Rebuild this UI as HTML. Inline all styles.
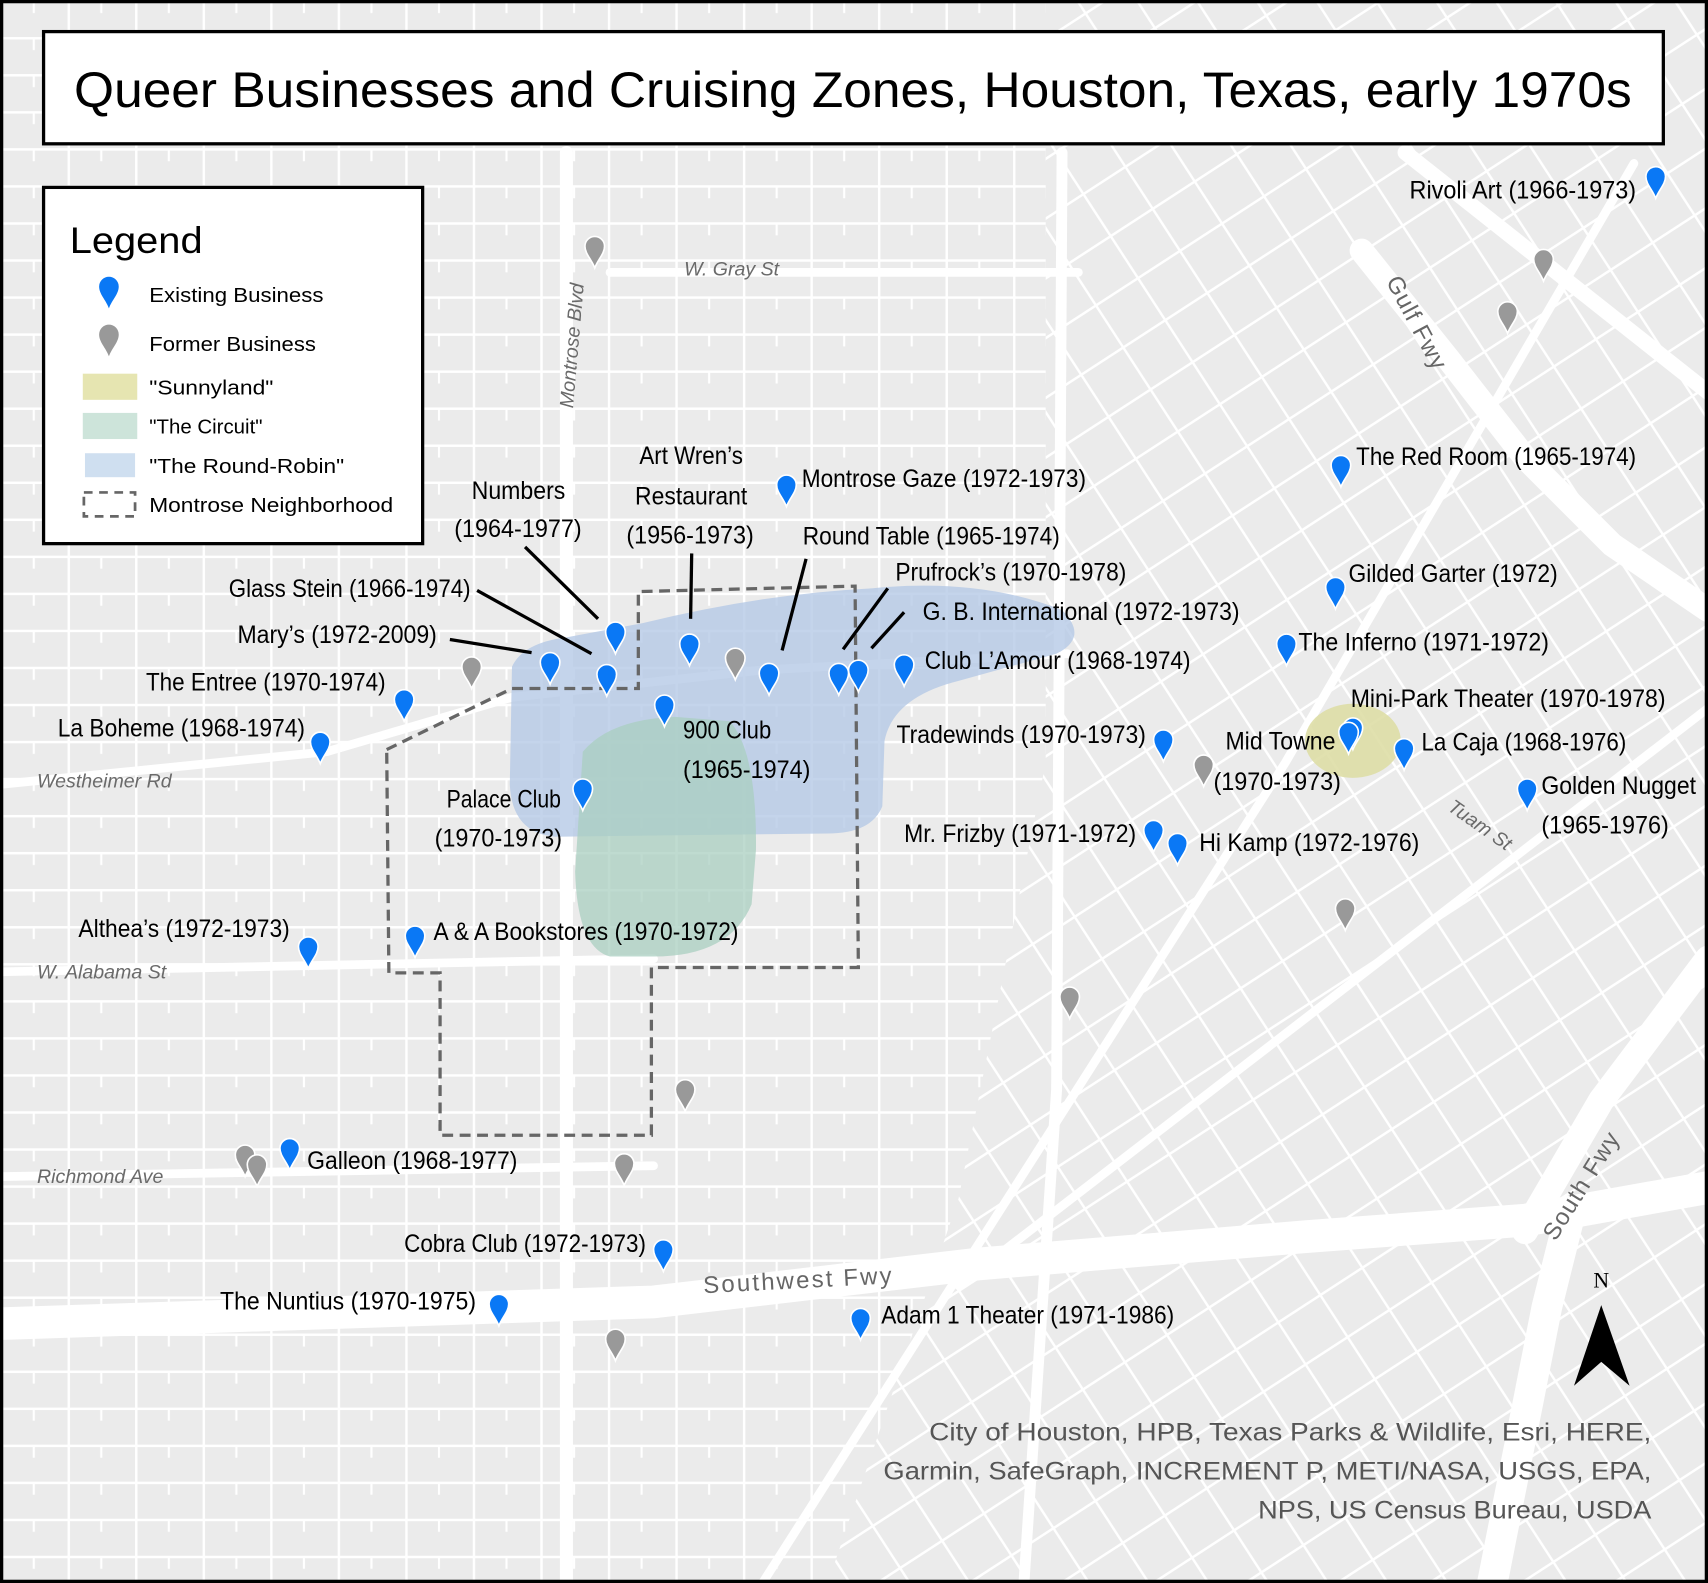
<!DOCTYPE html>
<html><head><meta charset="utf-8"><style>
html,body{margin:0;padding:0;background:#ebebeb}
svg{display:block}
.l{font-family:"Liberation Sans Narrow","Liberation Sans",sans-serif;font-size:23px;fill:#000}
.s{font-family:"Liberation Sans",sans-serif;font-size:19px;fill:#000}
.st{font-family:"Liberation Sans",sans-serif;font-style:italic;font-size:18px;fill:#6a6a6a}
</style></head><body>
<svg width="1708" height="1583" viewBox="0 0 1568 1453" preserveAspectRatio="none" xmlns="http://www.w3.org/2000/svg">
<defs>
<pattern id="gw" width="62" height="34" patternUnits="userSpaceOnUse">
<rect width="62" height="34" fill="#ebebeb"/>
<path d="M0 1H62M1 0V34" stroke="#fff" stroke-width="2.5"/>
<path d="M31 1V12" stroke="#fff" stroke-width="2"/>
</pattern>
<pattern id="ge" width="46" height="46" patternUnits="userSpaceOnUse" patternTransform="rotate(-33)">
<rect width="46" height="46" fill="#ebebeb"/>
<path d="M0 1H46M1 0V46" stroke="#fff" stroke-width="2.5"/>
</pattern>
<path id="pin" d="M0,0 C-3,-8 -9,-13 -9,-20 A9,9 0 1 1 9,-20 C9,-13 3,-8 0,0Z"/>
</defs>
<rect width="1568" height="1453" fill="url(#gw)"/>
<path d="M960 0 L1568 0 L1568 1453 L760 1453 L880 1100 L960 700Z" fill="url(#ge)"/>
<g stroke="#fff" fill="none" stroke-linecap="round">
<path d="M0 1215 L600 1195 L900 1160 L1200 1135 L1400 1120 L1568 1090" stroke-width="30"/>
<path d="M1400 1130 L1470 1010 L1568 880" stroke-width="24"/>
<path d="M1370 1453 L1420 1200 L1440 1120" stroke-width="28"/>
<path d="M1250 230 L1330 330 L1400 420 L1480 500 L1568 560" stroke-width="22"/>
<path d="M1290 140 L1568 360" stroke-width="14"/>
<path d="M520 140 L520 1453" stroke-width="12"/>
<path d="M0 720 L300 690 L470 640 L700 615 L980 600" stroke-width="8"/>
<path d="M0 892 L600 880" stroke-width="8"/>
<path d="M0 1080 L600 1070" stroke-width="8"/>
<path d="M560 250 L990 250" stroke-width="8"/>
<path d="M975 140 L970 1000 L940 1453" stroke-width="10"/>
<path d="M880 1180 L1568 650" stroke-width="8"/>
<path d="M700 1453 L1180 700 L1500 150" stroke-width="8"/>
</g>
<path d="M470 612 Q480 590 520 585 L590 572 Q700 545 800 540 Q900 530 975 560 Q1000 585 970 600 L880 625 Q820 640 812 680 L810 740 Q800 765 760 765 L510 768 Q470 765 468 720 Z" fill="#b5c9e6" opacity="0.8"/>
<path d="M535 690 Q560 660 620 658 L670 662 Q695 690 694 780 L690 830 Q670 878 600 878 L560 878 Q530 870 528 800 Z" fill="#a9cfc0" opacity="0.75"/>
<ellipse cx="1242" cy="680" rx="44" ry="34" fill="#dedea6" opacity="0.9"/>
<path d="M355 688 L470 632 L586 632 L586 543 L785 538 L788 888 L598 888 L598 1042 L404 1042 L404 893 L357 893 Z" fill="none" stroke="#666" stroke-width="3" stroke-dasharray="10 6"/>
<text class="st" x="628" y="253">W. Gray St</text>
<text class="st" transform="translate(526,375) rotate(-85)">Montrose Blvd</text>
<text class="st" x="34" y="723">Westheimer Rd</text>
<text class="st" x="34" y="898">W. Alabama St</text>
<text class="st" x="34" y="1086">Richmond Ave</text>
<text class="st" transform="translate(1328,743) rotate(35)">Tuam St</text>
<text x="646" y="1187" font-family="Liberation Sans,sans-serif" font-size="22" fill="#666" letter-spacing="2" transform="rotate(-3 646 1187)">Southwest Fwy</text>
<text transform="translate(1428,1140) rotate(-58)" font-family="Liberation Sans,sans-serif" font-size="22" fill="#666" letter-spacing="1">South Fwy</text>
<text transform="translate(1272,258) rotate(62)" font-family="Liberation Sans,sans-serif" font-size="22" fill="#666" letter-spacing="1">Gulf Fwy</text>
<g stroke="#000" stroke-width="3">
<line x1="482" y1="502" x2="549" y2="568"/>
<line x1="438" y1="542" x2="543" y2="600"/>
<line x1="413" y1="587" x2="488" y2="599"/>
<line x1="635" y1="508" x2="634" y2="568"/>
<line x1="740" y1="513" x2="718" y2="597"/>
<line x1="815" y1="540" x2="774" y2="596"/>
<line x1="830" y1="562" x2="800" y2="595"/>
</g>
<g fill="#0a78f5" stroke="#fff" stroke-width="1.5">
<use href="#pin" x="1520" y="182"/><use href="#pin" x="722" y="465"/><use href="#pin" x="1231" y="447"/>
<use href="#pin" x="1226" y="559"/><use href="#pin" x="1181" y="611"/><use href="#pin" x="1242" y="688"/><use href="#pin" x="1238" y="692"/>
<use href="#pin" x="1289" y="707"/><use href="#pin" x="1402" y="744"/><use href="#pin" x="1068" y="699"/>
<use href="#pin" x="1059" y="782"/><use href="#pin" x="1081" y="794"/><use href="#pin" x="565" y="600"/>
<use href="#pin" x="557" y="639"/><use href="#pin" x="505" y="628"/><use href="#pin" x="633" y="611"/>
<use href="#pin" x="706" y="638"/><use href="#pin" x="770" y="638"/><use href="#pin" x="788" y="635"/>
<use href="#pin" x="830" y="630"/><use href="#pin" x="610" y="667"/><use href="#pin" x="535" y="744"/>
<use href="#pin" x="371" y="662"/><use href="#pin" x="294" y="701"/><use href="#pin" x="283" y="889"/>
<use href="#pin" x="381" y="879"/><use href="#pin" x="266" y="1074"/><use href="#pin" x="609" y="1167"/>
<use href="#pin" x="458" y="1217"/><use href="#pin" x="790" y="1230"/>
</g>
<g fill="#999" stroke="#fff" stroke-width="1.5">
<use href="#pin" x="546" y="246"/><use href="#pin" x="1417" y="258"/><use href="#pin" x="1384" y="306"/>
<use href="#pin" x="433" y="632"/><use href="#pin" x="675" y="624"/><use href="#pin" x="1105" y="722"/>
<use href="#pin" x="1235" y="854"/><use href="#pin" x="982" y="935"/><use href="#pin" x="629" y="1020"/>
<use href="#pin" x="225" y="1080"/><use href="#pin" x="236" y="1089"/><use href="#pin" x="573" y="1088"/>
<use href="#pin" x="565" y="1249"/>
</g>
<g class="l" lengthAdjust="spacingAndGlyphs">
<text x="1294" y="182" textLength="208" lengthAdjust="spacingAndGlyphs">Rivoli Art (1966-1973)</text>
<text x="736" y="447" textLength="261" lengthAdjust="spacingAndGlyphs">Montrose Gaze (1972-1973)</text>
<text x="1245" y="427" textLength="257" lengthAdjust="spacingAndGlyphs">The Red Room (1965-1974)</text>
<text x="1238" y="534" textLength="192" lengthAdjust="spacingAndGlyphs">Gilded Garter (1972)</text>
<text x="1192" y="597" textLength="230" lengthAdjust="spacingAndGlyphs">The Inferno (1971-1972)</text>
<text x="1240" y="649" textLength="289" lengthAdjust="spacingAndGlyphs">Mini-Park Theater (1970-1978)</text>
<text x="1125" y="688" textLength="101" lengthAdjust="spacingAndGlyphs">Mid Towne</text>
<text x="1114" y="725" textLength="117" lengthAdjust="spacingAndGlyphs">(1970-1973)</text>
<text x="1305" y="689" textLength="188" lengthAdjust="spacingAndGlyphs">La Caja (1968-1976)</text>
<text x="1415" y="729" textLength="142" lengthAdjust="spacingAndGlyphs">Golden Nugget</text>
<text x="1415" y="765" textLength="117" lengthAdjust="spacingAndGlyphs">(1965-1976)</text>
<text x="823" y="682" textLength="229" lengthAdjust="spacingAndGlyphs">Tradewinds (1970-1973)</text>
<text x="830" y="773" textLength="213" lengthAdjust="spacingAndGlyphs">Mr. Frizby (1971-1972)</text>
<text x="1101" y="781" textLength="202" lengthAdjust="spacingAndGlyphs">Hi Kamp (1972-1976)</text>
<text x="433" y="458" textLength="86" lengthAdjust="spacingAndGlyphs">Numbers</text>
<text x="417" y="493" textLength="117" lengthAdjust="spacingAndGlyphs">(1964-1977)</text>
<text x="587" y="426" textLength="95" lengthAdjust="spacingAndGlyphs">Art Wren’s</text>
<text x="583" y="463" textLength="103" lengthAdjust="spacingAndGlyphs">Restaurant</text>
<text x="575" y="499" textLength="117" lengthAdjust="spacingAndGlyphs">(1956-1973)</text>
<text x="737" y="500" textLength="236" lengthAdjust="spacingAndGlyphs">Round Table (1965-1974)</text>
<text x="822" y="533" textLength="212" lengthAdjust="spacingAndGlyphs">Prufrock’s (1970-1978)</text>
<text x="847" y="569" textLength="291" lengthAdjust="spacingAndGlyphs">G. B. International (1972-1973)</text>
<text x="849" y="614" textLength="244" lengthAdjust="spacingAndGlyphs">Club L’Amour (1968-1974)</text>
<text x="210" y="548" textLength="222" lengthAdjust="spacingAndGlyphs">Glass Stein (1966-1974)</text>
<text x="218" y="590" textLength="183" lengthAdjust="spacingAndGlyphs">Mary’s (1972-2009)</text>
<text x="134" y="634" textLength="220" lengthAdjust="spacingAndGlyphs">The Entree (1970-1974)</text>
<text x="53" y="676" textLength="227" lengthAdjust="spacingAndGlyphs">La Boheme (1968-1974)</text>
<text x="627" y="678" textLength="81" lengthAdjust="spacingAndGlyphs">900 Club</text>
<text x="627" y="714" textLength="117" lengthAdjust="spacingAndGlyphs">(1965-1974)</text>
<text x="410" y="741" textLength="105" lengthAdjust="spacingAndGlyphs">Palace Club</text>
<text x="399" y="777" textLength="117" lengthAdjust="spacingAndGlyphs">(1970-1973)</text>
<text x="72" y="860" textLength="194" lengthAdjust="spacingAndGlyphs">Althea’s (1972-1973)</text>
<text x="398" y="863" textLength="280" lengthAdjust="spacingAndGlyphs">A &amp; A Bookstores (1970-1972)</text>
<text x="282" y="1073" textLength="193" lengthAdjust="spacingAndGlyphs">Galleon (1968-1977)</text>
<text x="371" y="1149" textLength="222" lengthAdjust="spacingAndGlyphs">Cobra Club (1972-1973)</text>
<text x="202" y="1202" textLength="235" lengthAdjust="spacingAndGlyphs">The Nuntius (1970-1975)</text>
<text x="809" y="1215" textLength="269" lengthAdjust="spacingAndGlyphs">Adam 1 Theater (1971-1986)</text>
</g>
<g font-family="Liberation Sans,sans-serif" font-size="23" fill="#555">
<text x="853" y="1322" textLength="663" lengthAdjust="spacingAndGlyphs">City of Houston, HPB, Texas Parks &amp; Wildlife, Esri, HERE,</text>
<text x="811" y="1358" textLength="705" lengthAdjust="spacingAndGlyphs">Garmin, SafeGraph, INCREMENT P, METI/NASA, USGS, EPA,</text>
<text x="1155" y="1394" textLength="361" lengthAdjust="spacingAndGlyphs">NPS, US Census Bureau, USDA</text>
</g>
<text x="1470" y="1182" font-family="Liberation Serif,serif" font-size="20" text-anchor="middle">N</text>
<path d="M1470 1198 L1496 1272 L1470 1250 L1445 1272 Z" fill="#000"/>
<rect x="40" y="29" width="1487" height="103" fill="#fff" stroke="#000" stroke-width="3"/>
<text x="68" y="98" font-family="Liberation Sans,sans-serif" font-size="46" textLength="1430" lengthAdjust="spacingAndGlyphs">Queer Businesses and Cruising Zones, Houston, Texas, early 1970s</text>
<rect x="40" y="172" width="348" height="327" fill="#fff" stroke="#000" stroke-width="3"/>
<text x="64" y="232" font-family="Liberation Sans,sans-serif" font-size="34" textLength="122" lengthAdjust="spacingAndGlyphs">Legend</text>
<use href="#pin" x="100" y="283" fill="#0a78f5"/>
<use href="#pin" x="100" y="327" fill="#999"/>
<rect x="76" y="343" width="50" height="24" fill="#e6e5b1"/>
<rect x="76" y="379" width="50" height="24" fill="#cde4da"/>
<rect x="78" y="416" width="46" height="22" fill="#cfdff0"/>
<rect x="77" y="452" width="47" height="22" fill="none" stroke="#666" stroke-width="2.5" stroke-dasharray="8 6"/>
<g class="s">
<text x="137" y="277" textLength="160" lengthAdjust="spacingAndGlyphs">Existing Business</text>
<text x="137" y="322" textLength="153" lengthAdjust="spacingAndGlyphs">Former Business</text>
<text x="137" y="362" textLength="114" lengthAdjust="spacingAndGlyphs">"Sunnyland"</text>
<text x="137" y="398" textLength="104" lengthAdjust="spacingAndGlyphs">"The Circuit"</text>
<text x="137" y="434" textLength="179" lengthAdjust="spacingAndGlyphs">"The Round-Robin"</text>
<text x="137" y="470" textLength="224" lengthAdjust="spacingAndGlyphs">Montrose Neighborhood</text>
</g>
<rect x="1.5" y="1.5" width="1565" height="1450" fill="none" stroke="#000" stroke-width="3"/>
</svg>
</body></html>
